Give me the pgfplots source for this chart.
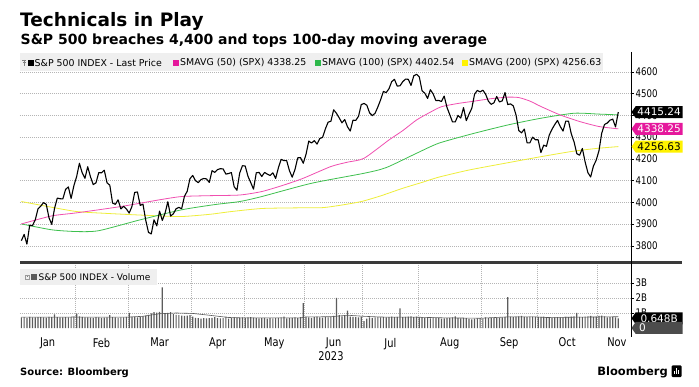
\documentclass[border=0pt]{standalone}
\usepackage{pgfplots}
\pgfplotsset{compat=1.18}
\usepackage{pgfplotstable}
\usepackage{fontspec}
\setmainfont{DejaVu Sans}
\newfontfamily\cond[FakeStretch=0.82]{DejaVu Sans}
\usetikzlibrary{shapes.symbols}
\definecolor{magl}{HTML}{F04FB0}
\definecolor{magt}{HTML}{E5189C}
\definecolor{grnl}{HTML}{3EC04E}
\definecolor{grns}{HTML}{2DB84A}
\definecolor{yell}{HTML}{EEEE3A}
\definecolor{yelt}{HTML}{FFF200}
\definecolor{gridc}{HTML}{B5B5B5}
\definecolor{legbg}{HTML}{EFEFEF}
\definecolor{barc}{HTML}{5C5C5C}
\definecolor{sepc}{HTML}{3A3A3A}

\pgfplotstableread{
close vol
3824 0.70
3853 0.72
3808 0.68
3895 0.74
3893 0.71
3919 0.70
3970 0.73
3983 0.72
3999 0.70
3991 0.69
3929 0.74
3899 0.73
3973 0.90
4020 0.72
4017 0.71
4016 0.70
4060 0.73
4071 0.71
4018 0.72
4077 0.76
4119 0.95
4180 0.78
4136 0.74
4111 0.70
4164 0.71
4118 0.69
4082 0.68
4090 0.72
4137 0.70
4136 0.68
4148 0.69
4090 0.71
4079 0.85
3997 0.72
3991 0.70
4012 0.68
3970 0.71
3982 0.70
3970 0.74
3951 1.00
3981 0.75
4046 0.72
4048 0.70
3986 0.74
3992 0.78
3918 0.82
3862 0.88
3855 0.98
3920 1.05
3892 1.02
3960 1.08
3917 2.70
3951 0.95
4003 1.00
3937 1.05
3948 0.92
3971 0.88
3977 0.85
3971 0.82
4028 0.80
4051 0.83
4109 0.86
4124 0.75
4100 0.68
4091 0.65
4105 0.62
4110 0.66
4108 0.64
4092 0.65
4146 0.68
4138 0.72
4151 0.66
4155 0.64
4154 0.65
4130 0.75
4133 0.63
4137 0.66
4072 0.70
4056 0.68
4135 0.67
4169 0.70
4167 0.68
4120 0.70
4091 0.72
4061 0.69
4136 0.66
4138 0.64
4119 0.65
4138 0.67
4130 0.63
4124 0.65
4136 0.64
4110 0.66
4159 0.68
4198 0.70
4192 0.75
4192 0.64
4146 0.66
4116 0.68
4151 0.70
4205 0.65
4206 0.72
4180 1.66
4221 0.74
4282 0.70
4273 0.68
4284 0.72
4268 0.75
4294 0.70
4299 0.69
4338 0.73
4369 0.71
4373 0.74
4426 0.80
4410 2.00
4389 0.85
4366 0.78
4381 0.80
4348 1.15
4328 0.76
4378 0.74
4377 0.72
4396 0.70
4450 0.75
4455 0.45
4447 0.62
4412 0.70
4399 0.68
4410 0.70
4439 0.72
4472 0.71
4510 0.74
4505 0.70
4522 0.72
4555 0.75
4566 0.73
4535 0.74
4536 1.30
4555 0.72
4567 0.74
4566 0.76
4538 0.78
4582 0.73
4589 0.75
4577 0.70
4513 0.72
4502 0.68
4478 0.66
4518 0.64
4499 0.70
4468 0.68
4469 0.66
4464 0.62
4489 0.64
4437 0.66
4404 0.68
4370 0.70
4370 0.78
4400 0.66
4388 0.64
4436 0.67
4376 0.65
4406 0.60
4433 0.58
4498 0.62
4515 0.64
4508 0.66
4516 0.64
4497 0.70
4465 0.66
4451 0.68
4458 0.65
4487 0.66
4462 0.68
4467 0.70
4505 0.72
4450 2.05
4453 0.75
4444 0.72
4402 0.76
4330 0.78
4320 0.80
4337 0.74
4274 0.72
4274 0.75
4300 0.76
4288 0.74
4288 0.72
4229 0.74
4263 0.76
4258 0.70
4309 0.73
4336 0.68
4358 0.70
4377 0.72
4349 0.71
4328 0.70
4374 0.74
4373 0.72
4315 0.76
4278 0.78
4224 1.00
4217 0.74
4248 0.73
4186 0.76
4137 0.78
4117 0.80
4167 0.74
4194 0.76
4237 0.80
4318 0.82
4358 0.78
4365 0.70
4378 0.72
4383 0.74
4347 0.70
4415.24 0.648
}\spx

\pgfplotsset{
  common/.style={
    scale only axis, width=611pt,
    xmin=-0.5, xmax=220.6,
    axis line style={draw=none},
    ytick pos=right, yticklabel pos=right,
    tick align=outside, major tick length=3pt, minor tick length=0pt,
    tick style={black, line width=0.6pt},
    minor xtick={19.5,38.5,61.5,80.5,102.5,123.5,143.5,166.5,186.5,208.5},
    xminorgrids=true, ymajorgrids=true,
    major grid style={gridc, dash pattern=on 0.8pt off 1.2pt, line width=0.5pt},
    minor grid style={gridc, dash pattern=on 0.8pt off 1.2pt, line width=0.5pt},
    yticklabel style={font=\cond\fontsize{10.5}{12}\selectfont, inner sep=1.5pt, text=black},
    clip=false,
  },
}
\tikzset{
  tag/.style={signal, signal to=west, signal pointer angle=110, anchor=west,
    minimum height=12pt, minimum width=51pt, inner xsep=1.5pt, inner ysep=0.5pt,
    font=\fontsize{10.5}{12}\selectfont, xshift=0.3pt},
}

\begin{document}
\begin{tikzpicture}
\path[use as bounding box] (0pt,0pt) rectangle (699pt,-387pt);
\fill[white] (0pt,0pt) rectangle (699pt,-387pt);

% titles
\node[anchor=base west, inner sep=0, font=\bfseries\fontsize{18.5}{20}\selectfont] at (20pt,-26.7pt) {Technicals in Play};
\node[anchor=base west, inner sep=0, font=\bfseries\fontsize{14}{16}\selectfont] at (20.5pt,-44.3pt) {S\&P 500 breaches 4,400 and tops 100-day moving average};

% main price panel
\begin{axis}[common, at={(20pt,-262pt)}, anchor=south west, height=209pt,
  ymin=3726, ymax=4687,
  xtick=\empty,
  ytick={3800,3900,4000,4100,4200,4300,4400,4500,4600},
  yticklabels={3800,3900,4000,4100,4200,4300,4400,4500,4600}]
\addplot[yell, line width=0.8pt, smooth, tension=0.4] coordinates {
(0,4004) (10,3980) (20,3958) (30,3950) (41,3943) (50,3938) (58,3935) (68,3945) (76,3958) (87,3972) (100,3975) (109,3976) (116,3988) (123,4004) (130,4030) (138,4065) (145,4092) (151,4116) (162,4149) (175,4180) (187,4208) (199,4234) (208,4248) (216,4256.63)};
\addplot[grnl, line width=0.8pt, smooth, tension=0.4] coordinates {
(0,3901) (11,3874) (20,3866) (28,3870) (43,3920) (58,3966) (70,3990) (79,4004) (87,4027) (105,4088) (124,4134) (132,4160) (143,4226) (151,4272) (163,4315) (176,4356) (188,4387) (200,4410) (209,4406) (216,4402.54)};
\addplot[magl, line width=0.8pt, smooth, tension=0.4] coordinates {
(0,3901) (11,3938) (20,3952) (36,3981) (50,4012) (58,4027) (68,4031) (79,4034) (87,4050) (95,4080) (102,4111) (112,4165) (118,4185) (124,4203) (133,4287) (138,4330) (143,4379) (148,4415) (152,4440) (158,4455) (163,4464) (170,4477) (176,4484) (180,4482) (184,4466) (188,4441) (195,4402) (202,4372) (209,4349) (216,4338.25)};
\addplot[black, line width=1.1pt, line join=round] table[x expr=\coordindex, y=close] {\spx};
\coordinate (t1) at (axis cs:220.6,4415.24);
\coordinate (t2) at (axis cs:220.6,4338.25);
\coordinate (t3) at (axis cs:220.6,4256.63);
\end{axis}

% volume panel
\begin{axis}[common, at={(20pt,-328pt)}, anchor=south west, height=65pt,
  ymin=0, ymax=4.33,
  ytick={1,2,3}, yticklabels={1B,2B,3B},
  xtick={9.5,29,50,71,91.5,113,133.5,155,176.5,197.5,215.5},
  xticklabels={Jan,Feb,Mar,Apr,May,Jun,Jul,Aug,Sep,Oct,Nov},
  xtick style={draw=none},
  xticklabel style={font=\cond\fontsize{12}{14}\selectfont, yshift=-3.5pt, text=black}]
\addplot[ybar, bar width=1.2pt, fill=barc, draw=none] table[x expr=\coordindex, y=vol] {\spx};
\addplot[black!65, line width=0.6pt] coordinates {
(0,0.72) (19,0.73) (38,0.72) (44,0.78) (50,0.95) (56,1.00) (62,0.97) (68,0.85) (75,0.70) (81,0.67) (101,0.67) (103,0.74) (112,0.75) (118,0.85) (124,0.78) (130,0.73) (143,0.72) (152,0.68) (166,0.65) (176,0.74) (186,0.74) (190,0.70) (200,0.72) (216,0.75)};
\coordinate (v1) at (axis cs:220.6,0.648);
\coordinate (v0) at (axis cs:220.6,0);
\end{axis}

% separator and right axis line
\draw[line width=2.6pt, sepc] (20pt,-262.5pt) -- (682pt,-262.5pt);
\draw[black, line width=0.7pt] (631pt,-52pt) -- (631pt,-337pt);

% legend band main
\fill[legbg] (20pt,-53.5pt) rectangle (603pt,-71.5pt);
\draw[gray, line width=0.5pt] (22.3pt,-60pt) -- (26.3pt,-60pt) (24.3pt,-60pt) -- (24.3pt,-66.5pt) (22.8pt,-62pt) -- (25.8pt,-62pt);
\fill[black] (28pt,-60.2pt) rectangle (33.5pt,-65.7pt);
\node[anchor=west, inner sep=0, font=\fontsize{9.4}{11}\selectfont] at (34.5pt,-63pt) {S\&P 500 INDEX - Last Price};
\fill[magt] (173pt,-60.2pt) rectangle (178.5pt,-65.7pt);
\node[anchor=west, inner sep=0, font=\fontsize{9.4}{11}\selectfont] at (180pt,-63pt) {SMAVG (50) (SPX) 4338.25};
\fill[grns] (315pt,-60.2pt) rectangle (320.5pt,-65.7pt);
\node[anchor=west, inner sep=0, font=\fontsize{9.4}{11}\selectfont] at (322pt,-63pt) {SMAVG (100) (SPX) 4402.54};
\fill[yelt] (462pt,-60.2pt) rectangle (467.5pt,-65.7pt);
\node[anchor=west, inner sep=0, font=\fontsize{9.4}{11}\selectfont] at (469pt,-63pt) {SMAVG (200) (SPX) 4256.63};

% legend band volume
\fill[legbg] (20pt,-269pt) rectangle (157pt,-285pt);
\draw[gray!80, line width=0.4pt] (25pt,-275pt) rectangle (29pt,-279pt);
\fill[gray] (26.5pt,-276.5pt) rectangle (27.5pt,-277.5pt);
\fill[barc] (31pt,-274.2pt) rectangle (36.5pt,-279.7pt);
\node[anchor=west, inner sep=0, font=\fontsize{9}{11}\selectfont] at (38.5pt,-277pt) {S\&P 500 INDEX - Volume};

% value tags
\node[tag, fill=black, text=white] at (t1) {4415.24};
\node[tag, fill=magt, text=white] at (t2) {4338.25};
\node[tag, fill=yelt, text=black] at (t3) {4256.63};
\node[tag, fill=black, text=white] at (v1) {0.648B};
\node[tag, fill=black!70, text=white, text width=40pt, align=left] at (v0) {0};

% bottom texts
\node[font=\cond\fontsize{12}{14}\selectfont] at (331pt,-356pt) {2023};
\node[anchor=base west, inner sep=0, font=\bfseries\fontsize{10}{12}\selectfont] at (20pt,-376pt) {Source: Bloomberg};
\node[anchor=base east, inner sep=0, font=\bfseries\fontsize{11.5}{13}\selectfont] at (668pt,-376pt) {Bloomberg};
\fill[black, rounded corners=1pt] (671.5pt,-365.5pt) rectangle (681.5pt,-377pt);
\draw[white, line width=0.8pt] (674.5pt,-373.5pt) -- (674.5pt,-371pt) (676.5pt,-373.5pt) -- (676.5pt,-368.5pt) (678.5pt,-373.5pt) -- (678.5pt,-370pt);
\end{tikzpicture}
\end{document}
